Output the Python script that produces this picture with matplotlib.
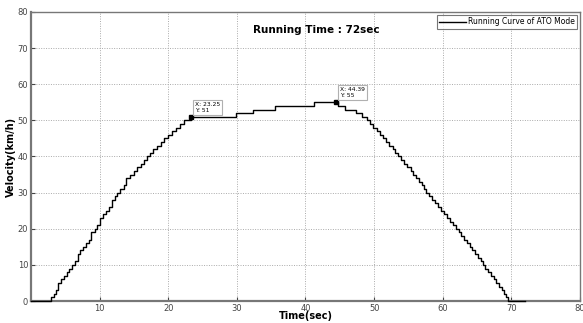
import matplotlib.pyplot as plt
import numpy as np

# running curve of ATO mode (time in sec, velocity in km/h)
t = [0, 2.6, 3.0, 3.4, 3.7, 4.0, 4.4, 4.8, 5.2, 5.6, 6.0, 6.4, 6.8, 7.2, 7.6, 8.0,
     8.4, 8.8, 9.3, 9.7, 10.1, 10.5, 11.0, 11.4, 11.8, 12.2, 12.6, 13.0, 13.5, 13.9,
     14.5, 15.0, 15.5, 16.0, 16.5, 16.9, 17.4, 17.8, 18.4, 18.9, 19.4, 19.9, 20.5,
     21.1, 21.7, 22.3, 23.25, 29.9, 32.3, 35.6, 41.2, 44.8, 45.8, 47.4, 48.3, 49.0,
     49.4, 49.9, 50.4, 50.9, 51.3, 51.8, 52.2, 52.7, 53.1, 53.5, 53.9, 54.4, 54.8,
     55.3, 55.7, 56.1, 56.5, 57.0, 57.3, 57.6, 58.0, 58.5, 58.9, 59.3, 59.8, 60.2,
     60.6, 61.1, 61.5, 61.9, 62.3, 62.7, 63.1, 63.5, 63.9, 64.3, 64.7, 65.1, 65.5,
     65.8, 66.2, 66.6, 67.0, 67.4, 67.8, 68.2, 68.6, 68.9, 69.2, 69.5, 72.0]
v = [0, 0, 1, 2, 3, 5, 6, 7, 8, 9, 10, 11, 13, 14, 15, 16,
     17, 19, 20, 21, 23, 24, 25, 26, 28, 29, 30, 31, 32, 34,
     35, 36, 37, 38, 39, 40, 41, 42, 43, 44, 45, 46, 47,
     48, 49, 50, 51, 52, 53, 54, 55, 54, 53, 52, 51, 50,
     49, 48, 47, 46, 45, 44, 43, 42, 41, 40, 39, 38, 37,
     36, 35, 34, 33, 32, 31, 30, 29, 28, 27, 26, 25, 24,
     23, 22, 21, 20, 19, 18, 17, 16, 15, 14, 13, 12, 11,
     10, 9, 8, 7, 6, 5, 4, 3, 2, 1, 0, 0]

tips_x = [23.25, 44.39]
tips_y = [51, 55]
tips_lbl = ["X: 23.25\nY: 51", "X: 44.39\nY: 55"]

fig = plt.figure(figsize=(5.83, 3.23), dpi=100)
ax = fig.add_axes([0.053, 0.068, 0.942, 0.895])

ax.plot(t, v, color='black', lw=1.0, drawstyle='steps-post',
        label='Running Curve of ATO Mode', clip_on=False, zorder=5)
ax.plot(tips_x, tips_y, 's', color='black', ms=3.5, zorder=6)
for x, y, s in zip(tips_x, tips_y, tips_lbl):
    ax.annotate(s, (x, y), xytext=(3, 3), textcoords='offset points',
                fontsize=4.3, va='bottom', ha='left', zorder=7,
                bbox=dict(boxstyle='square,pad=0.35', fc='white', ec='#b0b0b0', lw=0.8))

ax.text(41.6, 75, 'Running Time : 72sec', fontsize=7.5, fontweight='bold',
        ha='center', va='center')

ax.set_xlim(0, 80)
ax.set_ylim(0, 80)
ax.set_xticks(np.arange(10, 81, 10))
ax.set_yticks(np.arange(0, 81, 10))
ax.tick_params(direction='in', labelsize=6, length=3, colors='#444444', pad=2)
ax.grid(True, ls=(0, (1, 1.5)), color='#aaaaaa', lw=0.7)
for s in ax.spines.values():
    s.set_color('#777777')
    s.set_linewidth(1.0)
ax.spines['left'].set_linewidth(1.6)
ax.spines['bottom'].set_linewidth(1.6)

ax.set_xlabel('Time(sec)', fontsize=7, fontweight='bold', labelpad=-1)
ax.set_ylabel('Velocity(km/h)', fontsize=7, fontweight='bold', labelpad=1)

leg = ax.legend(loc='upper right', fontsize=5.5, frameon=True, fancybox=False,
                borderpad=0.3, handlelength=3.5, handletextpad=0.3,
                borderaxespad=0.4)
leg.get_frame().set_edgecolor('#555555')
leg.get_frame().set_linewidth(0.8)

fig.savefig('out.png', dpi=100)
